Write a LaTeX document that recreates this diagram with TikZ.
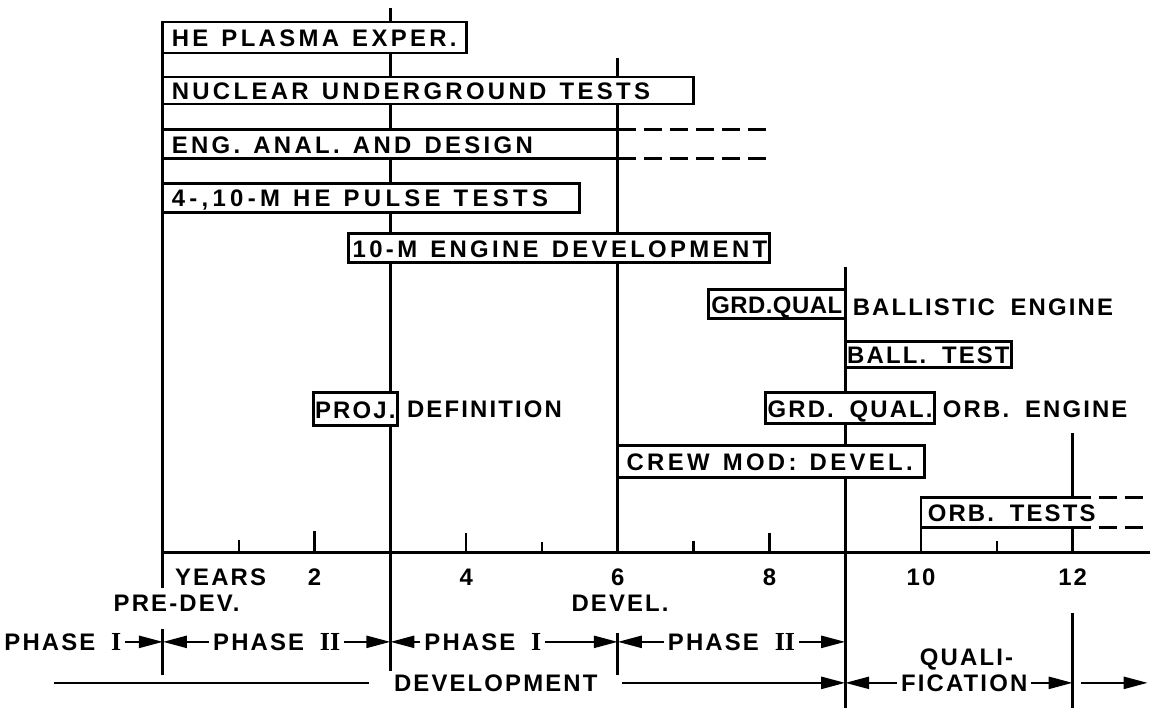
\documentclass[tikz,border=0pt]{standalone}
\usepackage{fontspec}
\setmainfont{Liberation Sans}[LetterSpace=9, WordSpace=1.8]
\newfontfamily\widefont{Liberation Sans}[LetterSpace=14]
\newfontfamily\widerfont{Liberation Sans}[LetterSpace=18]
\newfontfamily\tightfont{Liberation Sans}[LetterSpace=2]
\newfontfamily\romfont{Liberation Serif}
\newcommand\lettersize{\fontsize{17}{20}\selectfont}
\newcommand\numeral[1]{{\romfont\fontsize{18.5}{20}\selectfont #1}}
\usetikzlibrary{arrows.meta,positioning,calc}

\begin{document}
\frenchspacing
\begin{tikzpicture}[
        x=1.895cm, y=-0.025cm,
        every node/.style={font=\bfseries\lettersize, inner sep=0pt, outer sep=0pt, text height=0.43cm, text depth=0pt},
        grid/.style={line width=2.1pt},
        tick/.style={line width=1.7pt},
        ext/.style={line width=2.1pt, dash pattern=on 0.45cm off 0.2cm},
        span/.style={line width=1.7pt, -{Triangle[length=0.6cm, width=0.3cm]}},
        bar/.style={draw, line width=2.1pt, fill=white, anchor=west, inner xsep=0.22cm, minimum height=0.74cm, text width=#1, font=\widefont\bfseries\lettersize, execute at begin node={\hbox\bgroup\spaceskip=0.55em\relax}, execute at end node=\egroup},
        wider/.style={font=\widerfont\bfseries\lettersize},
        tight/.style={font=\tightfont\bfseries\lettersize},
        tag/.style={draw, line width=2.1pt, fill=white, anchor=west, inner xsep=0.05cm, minimum height=0.74cm, minimum width=#1},
        gap/.style={inner xsep=0.1cm}
    ]
        \useasboundingbox (-2.150,0) rectangle (13.021,708);

        % year lines
        \draw[grid] (0,22) -- (0,588);
        \draw[grid] (3,8) -- (3,671);
        \draw[grid] (6,58) -- (6,553);
        \draw[grid] (9,267) -- (9,708);
        \draw[grid] (12,433) -- (12,498);
        \draw[grid] (12,528) -- (12,553);
        \draw[grid] (10,528) -- (10,553);
        \draw[grid] (12,613) -- (12,708);
        \draw[grid] (0,629) -- (0,675);
        \draw[grid] (6,633) -- (6,675);

        % time axis
        \draw[grid] (0,553) -- (13.021,553);
        \foreach \t/\h in {1/13,2/22,4/20,5/11,7/12,8/20,11/12}
            \draw[tick] (\t,553) -- ++(0,-\h);

        % activities
        \node[bar=7.14cm, minimum height=0.775cm] (plasma) at (0,37.5) {HE PLASMA EXPER.};
        \node[bar=12.825cm, minimum height=0.675cm] (nuclear) at (0,90.5) {NUCLEAR UNDERGROUND TESTS};
        \node[bar=10.93cm, minimum height=0.725cm] (design) at (0,144.5) {ENG. ANAL. AND DESIGN};
        \node[bar=9.98cm, wider] (pulse) at (0,198) {4-,10-M HE PULSE TESTS};
        \node[bar=10.317cm, inner xsep=0.1cm, minimum height=0.725cm] (engine) at (2.45,248.5) {10-M ENGINE DEVELOPMENT};
        \node[tag=3.425cm, tight, anchor=east, minimum height=0.725cm] (grdball) at (9,304.5) {GRD.QUAL};
        \node[anchor=west] (ballistic) at (9.10,307) {BALLISTIC ENGINE};
        \node[tag=3.95cm, minimum height=0.65cm] (balltest) at (9,355) {BALL. TEST};
        \node[tag=4.05cm, minimum height=0.775cm] (grdorb) at (7.95,408.5) {GRD. QUAL.};
        \node[anchor=west] (orbengine) at (10.29,409) {ORB. ENGINE};
        \node[tag=2.1cm, minimum height=0.825cm] (proj) at (1.98,409.5) {PROJ.};
        \node[anchor=west] (definition) at (3.22,409) {DEFINITION};
        \node[bar=7.235cm, minimum height=0.8cm] (crew) at (6,462) {CREW MOD: DEVEL.};
        \node[anchor=west] (orbtests) at (10.09,513) {ORB. TESTS};

        \draw[ext] (design.north east) -- ++(2,0);
        \draw[ext] (design.south east) -- ++(2,0);
        \draw[grid] (12,498) -| (10,528) -- (12,528);
        \draw[ext] (12,498) -- (13.021,498);
        \draw[ext] (12,528) -- (13.021,528);

        % axis labels
        \node[anchor=west] (years) at (0.16,577) {YEARS};
        \foreach \t in {2,4,6,8,10,12}
            \node (t\t) at (\t,577) {\t};

        % phases
        \node (predev) at (0.18,603) {PRE-DEV.};
        \node (devel) at (6.03,603) {DEVEL.};
        \coordinate (m0) at (0,642);
        \coordinate (m3) at (3,642);
        \coordinate (m6) at (6,642);
        \coordinate (m9) at (9,642);
        \node[gap] (ph1a) at (-1.32,642) {PHASE \numeral{I}};
        \node[gap] (ph2a) at (1.5,642) {PHASE \numeral{II}};
        \node[gap] (ph1b) at (4.22,642) {PHASE \numeral{I}};
        \node[gap] (ph2b) at (7.5,642) {PHASE \numeral{II}};
        \draw[span] (ph1a) -- (m0);
        \draw[span] (ph2a) -- (m0);
        \draw[span] (ph2a) -- (m3);
        \draw[span] (ph1b) -- (m3);
        \draw[span] (ph1b) -- (m6);
        \draw[span] (ph2b) -- (m6);
        \draw[span] (ph2b) -- (m9);

        % development / qualification
        \coordinate (dstart) at (-1.44,683);
        \coordinate (q9) at (9,683);
        \coordinate (q12) at (12,683);
        \coordinate (qstart) at (12.11,683);
        \coordinate (qend) at (12.99,683);
        \node[inner xsep=0.62cm] (dev) at (4.39,683) {DEVELOPMENT};
        \node (quali) at (10.6,657) {QUALI-};
        \node[gap] (fication) at (10.57,683) {FICATION};
        \draw[span, -] (dstart) -- (dev);
        \draw[span] (dev) -- (q9);
        \draw[span] (fication) -- (q9);
        \draw[span] (fication) -- (q12);
        \draw[span] (qstart) -- (qend);
\end{tikzpicture}
\end{document}
